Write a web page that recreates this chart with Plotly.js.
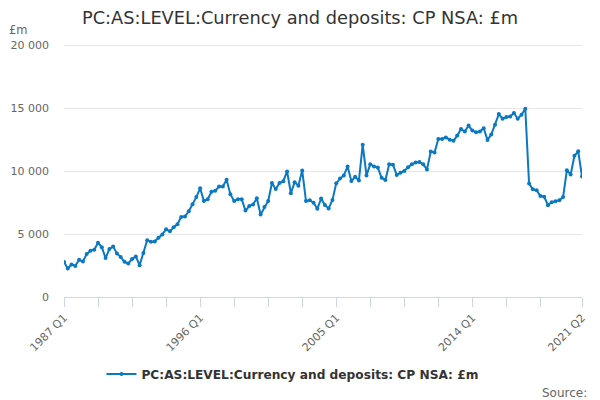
<!DOCTYPE html>
<html>
<head>
<meta charset="utf-8">
<script src="https://cdn.plot.ly/plotly-3.0.1.min.js"></script>
<style>
  html, body { margin: 0; padding: 0; background: #fff; }
  #chart { width: 600px; height: 400px; }
</style>
</head>
<body>
<div id="chart"></div>
<script>
// quarters 1987 Q1 .. 2021 Q2
var quarters = [];
for (var y = 1987; y <= 2021; y++) {
  for (var q = 1; q <= 4; q++) {
    if (y === 2021 && q > 2) break;
    quarters.push(y + " Q" + q);
  }
}

// £m
var valores = [
  2770, 2260, 2580, 2470, 2950, 2820, 3410, 3680, 3760, 4300,
  3950, 3090, 3810, 4000, 3460, 3170, 2790, 2660, 3010, 3220,
  2520, 3490, 4510, 4380, 4400, 4700, 4970, 5370, 5210, 5530,
  5770, 6360, 6390, 6800, 7360, 7930, 8630, 7620, 7760, 8350,
  8430, 8780, 8780, 9300, 8160, 7620, 7760, 7760, 6860, 7220,
  7350, 7840, 6540, 7140, 7620, 9050, 8570, 9050, 9190, 9970,
  8240, 9110, 8840, 10050, 7620, 7680, 7490, 7000, 7810, 7300,
  7030, 7700, 9020, 9400, 9650, 10350, 9200, 9545, 9250, 12090,
  9650, 10530, 10350, 10270, 9460, 9280, 10530, 10500, 9680, 9870,
  10000, 10300, 10530, 10670, 10720, 10530, 10130, 11550, 11470, 12540,
  12540, 12670, 12490, 12400, 12810, 13340, 13130, 13610, 13210, 13080,
  13130, 13400, 12470, 12890, 13670, 14520, 14150, 14280, 14330, 14600,
  14150, 14470, 14950, 9000, 8550, 8470, 8010, 7960, 7290, 7530,
  7610, 7670, 7930, 10070, 9720, 11210, 11560, 9560
];

var serie = "PC:AS:LEVEL:Currency and deposits: CP NSA: £m";

// x ticks every 9 quarters, label every 4th tick + the last one
var xTickVals = ["1987 Q1","1989 Q2","1991 Q3","1993 Q4","1996 Q1","1998 Q2","2000 Q3","2002 Q4",
  "2005 Q1","2007 Q2","2009 Q3","2011 Q4","2014 Q1","2016 Q2","2018 Q3","2021 Q2"];
var xTickText = ["1987 Q1","","","","1996 Q1","","","",
  "2005 Q1","","","","2014 Q1","","","2021 Q2"];

var yTickVals = [0, 5000, 10000, 15000, 20000];
var yTickText = ["0", "5 000", "10 000", "15 000", "20 000"];

var azul = "#0a78c2";

var trace = {
  x: quarters,
  y: valores,
  type: "scatter",
  mode: "lines+markers",
  name: serie,
  line: { color: azul, width: 2 },
  marker: { color: azul, size: 4 }
};

var layout = {
  width: 600,
  height: 400,
  margin: { l: 64, r: 18, t: 40, b: 103 },
  paper_bgcolor: "#fff",
  plot_bgcolor: "#fff",
  font: { family: "DejaVu Sans", color: "#666", size: 11 },
  title: {
    text: serie,
    font: { family: "DejaVu Sans", size: 17.8, color: "#333" },
    x: 0.5, xanchor: "center",
    y: 0.955, yanchor: "middle"
  },
  showlegend: true,
  legend: {
    orientation: "h",
    x: 0.441, xanchor: "center",
    y: -0.2996, yanchor: "middle",
    font: { family: "DejaVu Sans", size: 12.2, color: "#333", weight: "bold" }
  },
  xaxis: {
    type: "category",
    range: [0, quarters.length - 1],
    tickmode: "array",
    tickvals: xTickVals,
    ticktext: xTickText,
    tickangle: -45,
    ticks: "outside",
    ticklen: 9,
    tickcolor: "#ccd6eb",
    showline: true,
    linecolor: "#ccd6eb",
    linewidth: 1,
    showgrid: false,
    zeroline: false,
    tickfont: { size: 11, color: "#666" }
  },
  yaxis: {
    range: [0, 20400],
    tickmode: "array",
    tickvals: yTickVals,
    ticktext: yTickText,
    showgrid: true,
    gridcolor: "#e6e6e6",
    zeroline: false,
    showline: false,
    ticklabelstandoff: 14,
    tickfont: { size: 11, color: "#666" }
  },
  annotations: [
    {
      text: "£m", xref: "paper", yref: "paper",
      x: -0.11, y: 1.037, xanchor: "left", yanchor: "middle",
      showarrow: false, font: { size: 11.5, color: "#666" }
    },
    {
      text: "Source:", xref: "paper", yref: "paper",
      x: 1.0135, y: -0.3735, xanchor: "right", yanchor: "middle",
      showarrow: false, font: { size: 12, color: "#666" }
    }
  ]
};

Plotly.newPlot("chart", [trace], layout, { staticPlot: true });
</script>
</body>
</html>
